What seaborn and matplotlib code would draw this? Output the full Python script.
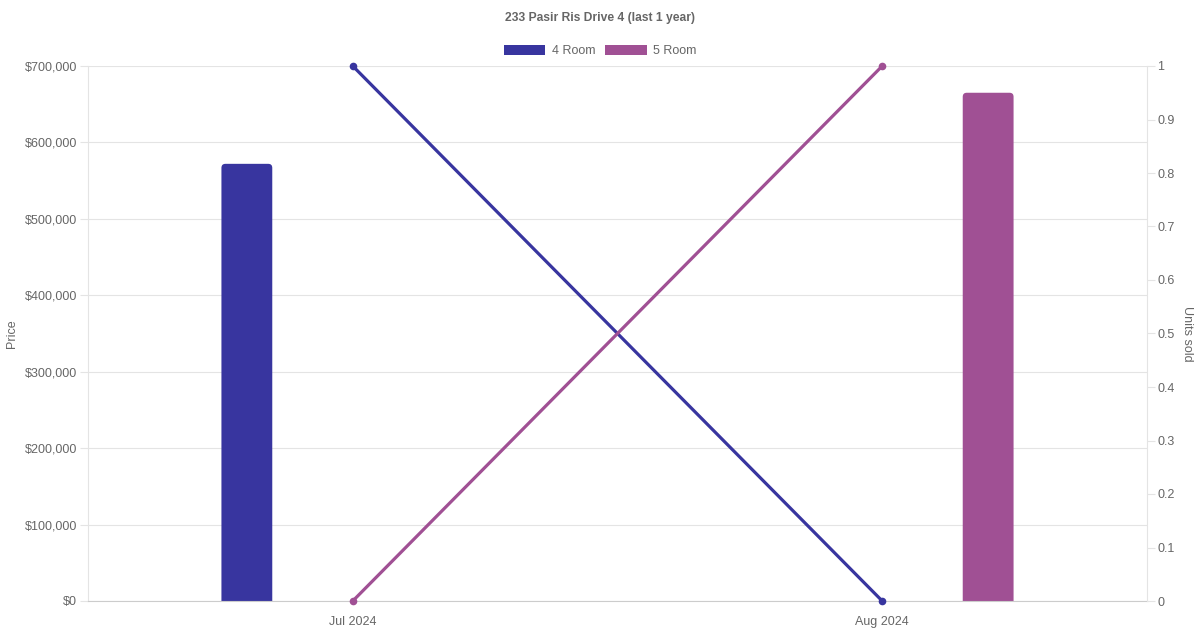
import pandas as pd
import seaborn as sns
import matplotlib.pyplot as plt
from matplotlib.patches import Patch, FancyBboxPatch
from matplotlib.ticker import FuncFormatter, MultipleLocator

months = ["Jul 2024", "Aug 2024"]
flat_types = ["4 Room", "5 Room"]
price_4room = [572000, 0]
price_5room = [0, 665000]
units_4room = [1, 0]
units_5room = [0, 1]

colors = {"4 Room": "#38359f", "5 Room": "#a05094"}
grey = "#666666"
grid_c = "#e4e4e4"

price_df = pd.DataFrame({
    "month": months * 2,
    "type": ["4 Room"] * 2 + ["5 Room"] * 2,
    "price": price_4room + price_5room,
})
units_df = pd.DataFrame({
    "month": months * 2,
    "type": ["4 Room"] * 2 + ["5 Room"] * 2,
    "units": units_4room + units_5room,
})

sns.set_style("white")
plt.rcParams["font.family"] = ["Liberation Sans", "DejaVu Sans"]

fig = plt.figure(figsize=(12, 6.3), dpi=100)
ax = fig.add_axes([88 / 1200, 29 / 630, 1059 / 1200, 535 / 630])

sns.barplot(data=price_df, x="month", y="price", hue="type", hue_order=flat_types,
            palette=colors, saturation=1, gap=0.76, width=0.8, legend=False, ax=ax,
            linewidth=0, zorder=2)
ax.set_xlim(-0.5, 1.5)
ax.set_ylim(0, 700000)

# swap the plain bars for ones with rounded top corners
px_x = 2 / 1059
px_y = 700000 / 535
for bar in list(ax.patches):
    h = bar.get_height()
    if h <= 0:
        bar.remove()
        continue
    x, w = bar.get_x(), bar.get_width()
    rounded = FancyBboxPatch((x, -8 * px_y), w, h + 8 * px_y,
                             boxstyle=f"round,pad=0,rounding_size={4 * px_x}",
                             mutation_aspect=px_y / px_x,
                             facecolor=bar.get_facecolor(), edgecolor="none", zorder=2)
    bar.remove()
    ax.add_patch(rounded)

ax.yaxis.set_major_locator(MultipleLocator(100000))
ax.yaxis.set_major_formatter(FuncFormatter(lambda v, p: f"${v:,.0f}"))
ax.grid(axis="y", color=grid_c, linewidth=0.8, zorder=0)
ax.set_xlabel("")
ax.set_ylabel("Price", color=grey, fontsize=9)
ax.yaxis.set_label_coords(-70 / 1059, 0.5)
ax.tick_params(axis="y", colors=grid_c, labelcolor=grey, labelsize=9, length=6, width=0.8, pad=2)
ax.tick_params(axis="x", labelcolor=grey, labelsize=9, length=0, pad=10.5)
for side in ["top", "right"]:
    ax.spines[side].set_visible(False)
ax.spines["left"].set_color(grid_c)
ax.spines["bottom"].set_color("#cccccc")

ax2 = ax.twinx()
sns.lineplot(data=units_df, x="month", y="units", hue="type", hue_order=flat_types,
             palette=colors, marker="o", markersize=5.5, markeredgewidth=0,
             linewidth=2.3, legend=False, ax=ax2)
ax2.set_xlim(-0.5, 1.5)
ax2.set_ylim(0, 1)
ax2.yaxis.set_major_locator(MultipleLocator(0.1))
ax2.yaxis.set_major_formatter(FuncFormatter(lambda v, p: f"{v:g}"))
ax2.set_ylabel("Units sold", color=grey, fontsize=9, rotation=270, va="center")
ax2.yaxis.set_label_coords(1 + 40 / 1059, 0.5)
ax2.tick_params(axis="y", colors=grid_c, labelcolor=grey, labelsize=9, length=6, width=0.8, pad=1.5)
for side in ["top", "left", "bottom"]:
    ax2.spines[side].set_visible(False)
ax2.spines["right"].set_color(grid_c)
for line in ax2.lines:
    line.set_clip_on(False)

fig.text(0.5, 1 - 18 / 630, "233 Pasir Ris Drive 4 (last 1 year)", ha="center", va="center",
         color=grey, fontsize=8.7, fontweight="bold")
handles = [Patch(facecolor=colors[t], edgecolor="none", label=t) for t in flat_types]
fig.legend(handles=handles, loc="center", bbox_to_anchor=(0.5, 1 - 51 / 630), ncol=2,
           frameon=False, fontsize=9, labelcolor=grey, handlelength=3.33, handleheight=0.95,
           handletextpad=0.5, columnspacing=0.8)

fig.savefig("out.png", dpi=100)
